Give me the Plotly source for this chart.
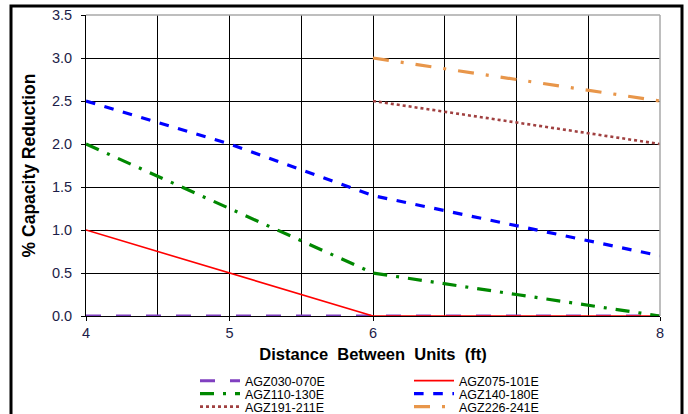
import plotly.graph_objects as go

# ---- data ----
x_vals = [4, 5, 6, 7, 8]
series_names = ["AGZ030-070E", "AGZ075-101E", "AGZ110-130E",
                "AGZ140-180E", "AGZ191-211E", "AGZ226-241E"]
agz030 = [0.0, 0.0, 0.0, 0.0, 0.0]
agz075 = [1.0, 0.5, 0.0, 0.0, 0.0]
agz110 = [2.0, 1.25, 0.5, 0.25, 0.0]
agz140 = [2.5, 2.0, 1.4, 1.05, 0.7]
agz191 = [None, None, 2.5, 2.25, 2.0]
agz226 = [None, None, 3.0, 2.75, 2.5]
x_tick_vals = [4, 5, 6, 8]
x_tick_text = ["4", "5", "6", "8"]
y_tick_vals = [0, 0.5, 1.0, 1.5, 2.0, 2.5, 3.0, 3.5]

styles = [
    dict(color="#8040C0", width=3, dash="longdash"),
    dict(color="#FF0000", width=1.6, dash="solid"),
    dict(color="#008800", width=3.2, dash="14px,9px,3px,9px"),
    dict(color="#0000FF", width=3.2, dash="dash"),
    dict(color="#A04040", width=2.6, dash="dot"),
    dict(color="#E8964A", width=3.2, dash="16px,12px,3px,12px"),
]
all_y = [agz030, agz075, agz110, agz140, agz191, agz226]
legend_ids = ["legend", "legend", "legend2", "legend2", "legend3", "legend3"]

fig = go.Figure()
for name, ys, st, lg in zip(series_names, all_y, styles, legend_ids):
    fig.add_trace(go.Scatter(x=x_vals, y=ys, mode="lines", name=name,
                             line=st, connectgaps=False, legend=lg))

W, H = 688, 414
L, R, T, B = 86, 28, 15, 98
pw, ph = W - L - R, H - T - B

def px_x(p):
    return (p - L) / pw

def px_y(p):
    return (H - B - p) / ph

tickfont = dict(family="Liberation Sans, Arial", size=14.5, color="#1C1C48")
xtitlefont = dict(family="Liberation Sans, Arial", size=16.5, color="#000000")
ytitlefont = dict(family="Liberation Sans, Arial", size=17.5, color="#000000")
legfont = dict(family="Liberation Sans, Arial", size=12.5, color="#000000")

def leg(ycen):
    return dict(orientation="h", x=px_x(195), y=px_y(ycen),
                xanchor="left", yanchor="middle",
                entrywidth=159, entrywidthmode="pixels",
                font=legfont, itemwidth=40,
                bgcolor="rgba(0,0,0,0)")

fig.update_layout(
    width=W, height=H,
    margin=dict(l=L, r=R, t=T, b=B, autoexpand=False),
    paper_bgcolor="white", plot_bgcolor="white",
    font=dict(family="Liberation Sans, Arial"),
    xaxis=dict(range=[4, 8], tickvals=x_tick_vals, ticktext=x_tick_text,
               showgrid=True, gridcolor="#000000", gridwidth=1,
               minor=dict(dtick=0.5, tick0=4, showgrid=True,
                          gridcolor="#000000", gridwidth=1),
               ticks="outside", ticklen=4, tickcolor="#000000",
               showline=True, linecolor="#000000", linewidth=1,
               zeroline=False, tickfont=tickfont,
               title=dict(text="<b>Distance  Between  Units  (ft)</b>",
                          font=xtitlefont, standoff=8)),
    yaxis=dict(range=[0, 3.5], tickvals=y_tick_vals, tickformat=".1f",
               showgrid=True, gridcolor="#000000", gridwidth=1,
               ticks="outside", ticklen=4, tickcolor="#000000",
               showline=True, linecolor="#000000", linewidth=1,
               zeroline=False, tickfont=tickfont, ticklabelstandoff=6,
               title=dict(text="<b>% Capacity Reduction</b>",
                          font=ytitlefont, standoff=11)),
    legend=leg(381),
    legend2=leg(394),
    legend3=leg(407),
    showlegend=True,
)

# plot area gray border (top and right)
fig.add_shape(type="line", xref="paper", yref="paper", x0=0, x1=1, y0=1, y1=1,
              line=dict(color="#A8A8A8", width=1.5), layer="above")
fig.add_shape(type="line", xref="paper", yref="paper", x0=1, x1=1, y0=0, y1=1,
              line=dict(color="#A8A8A8", width=1.5), layer="above")
# outer chart frame
fig.add_shape(type="rect", xref="paper", yref="paper",
              x0=px_x(11), x1=px_x(682), y0=px_y(430), y1=px_y(6),
              line=dict(color="#000000", width=3), layer="above")

fig.write_html("out.html", config={"displayModeBar": False},
               post_script="document.body.style.margin='0';document.body.style.overflow='hidden';")
